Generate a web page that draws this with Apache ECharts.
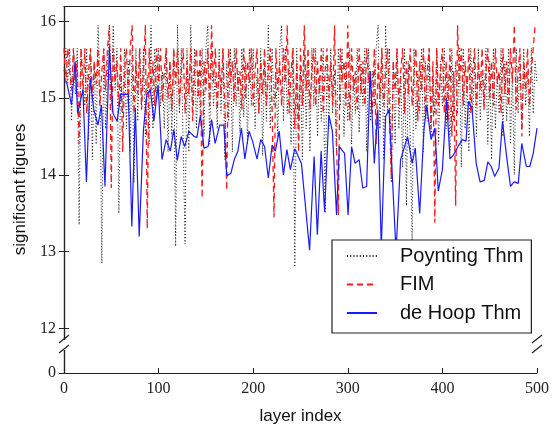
<!DOCTYPE html>
<html><head><meta charset="utf-8">
<script src="https://cdn.jsdelivr.net/npm/echarts@6/dist/echarts.min.js"></script>
<style>html,body{margin:0;padding:0;background:#fff}#c{width:552px;height:430px}</style>
</head><body><div id="c"></div>
<script>
// Layer spacing for the dense series (every 2nd layer)
const denseStep = 2;
const poynting = [
15.35,15.65,15.2,15.65,14.7,15.65,15.05,15.65,13.35,15.65,
15.3,14.9,15.65,14.45,15.65,14.2,15.48,14.4,15.95,15.2,
12.85,15.65,14.6,15.35,15.95,14.9,15.95,15.1,15.65,13.5,
15.35,14.8,15.65,14.6,15.48,14.3,15.65,13.9,15.65,14.7,
15.65,14.9,15.65,14.5,15.3,14.4,15.95,14.6,15.65,15.0,
15.65,14.9,15.35,14.6,15.65,14.3,15.48,14.5,15.65,13.07,
15.95,14.8,15.65,14.4,13.1,15.65,14.3,15.95,14.9,15.65,
14.6,15.35,14.8,15.65,14.5,15.65,15.95,14.4,15.65,14.9,
15.3,14.6,15.65,14.8,15.65,14.2,15.48,14.7,15.65,14.3,
15.65,14.9,15.35,14.55,15.65,14.75,15.48,14.4,15.65,14.9,
15.65,14.6,15.3,14.8,15.65,14.25,15.48,14.7,15.95,14.6,
15.65,14.9,15.35,14.5,15.65,15.95,14.7,15.65,14.8,15.48,
14.4,15.65,12.8,15.65,14.7,15.35,14.2,15.65,14.6,15.48,
14.3,15.65,14.9,15.65,14.5,15.3,14.7,15.65,13.5,15.48,
14.6,15.65,14.8,15.35,14.3,15.65,14.9,15.65,14.5,15.48,
14.7,15.65,14.4,15.3,14.8,15.65,14.55,15.48,14.9,15.65,
14.3,15.65,14.7,15.35,14.9,15.65,15.95,14.6,15.65,14.2,
15.95,14.8,15.65,13.9,15.48,14.4,15.65,14.6,15.3,14.1,
15.65,13.6,15.48,14.5,13.15,15.65,14.6,15.35,14.8,15.65,
14.3,15.48,14.7,15.65,14.5,15.3,14.8,15.65,14.4,15.48,
14.9,15.65,14.6,15.35,14.3,15.65,14.7,15.48,14.8,15.65,
14.1,15.65,14.6,15.3,14.3,15.65,14.8,15.48,14.5,15.65,
14.7,15.35,14.9,15.65,14.4,15.48,14.2,15.65,14.6,15.3,
14.8,15.65,14.5,15.48,14.7,15.65,14.4,15.35,14.0,15.65,
14.8,15.48,14.6,15.65,14.9,15.35,14.5,15.65,14.8,15.48,
15.2
];
const fim = [
15.65,15.2,15.65,15.35,15.1,15.65,15.2,15.48,14.4,15.65,
15.05,15.65,14.8,15.35,15.65,15.0,15.48,15.18,15.65,14.9,
15.35,15.65,15.1,15.65,15.95,13.83,15.65,15.2,15.48,14.9,
15.65,14.3,15.35,15.65,14.95,15.65,15.95,14.8,15.48,15.05,
15.65,14.85,15.35,15.95,13.3,15.65,15.1,15.48,14.9,15.65,
15.2,15.65,14.95,15.35,15.65,15.0,15.48,14.85,15.65,15.18,
15.65,14.9,15.35,15.65,14.8,15.48,15.05,15.65,14.7,15.35,
15.65,15.0,15.65,13.7,15.48,15.1,15.65,14.9,15.95,15.2,
15.65,14.85,15.48,15.05,15.65,14.9,13.8,15.65,15.2,15.48,
14.95,15.65,15.1,15.35,14.85,15.65,15.0,15.48,15.2,15.65,
14.9,15.35,15.65,14.8,15.48,15.05,15.65,14.9,15.35,15.65,
14.85,13.45,15.65,15.1,15.48,14.9,15.65,15.2,15.95,14.8,
15.35,15.65,14.6,15.48,14.3,15.65,14.9,15.95,15.1,15.65,
14.85,15.35,15.65,14.9,15.48,15.05,15.65,14.8,15.35,15.65,
15.0,15.48,14.9,15.95,14.4,13.48,15.65,15.2,15.48,14.9,
15.95,14.7,15.65,15.1,15.35,14.85,15.65,15.05,15.48,14.9,
15.65,15.2,15.35,14.8,15.65,14.4,15.48,15.0,15.65,14.9,
15.35,15.65,14.85,13.95,15.48,15.1,15.65,14.9,15.35,15.65,
14.8,15.48,15.05,15.65,14.9,15.35,15.65,14.7,15.48,15.1,
15.65,14.8,15.35,15.65,14.6,15.48,13.38,15.65,14.9,15.35,
15.65,14.8,15.48,14.7,15.65,14.5,15.35,13.6,15.95,15.2,
15.65,14.9,15.48,15.05,15.65,14.8,15.35,15.65,14.9,15.48,
15.1,15.65,14.85,15.35,15.65,15.0,15.48,14.9,15.65,15.2,
15.35,14.8,15.65,15.05,15.48,14.9,15.65,15.2,15.95,14.85,
15.35,15.65,14.5,15.48,15.1,15.65,14.9,15.35,15.65,15.95,
15.95
];
// de Hoop Thm: vertices (layer, value)
const deHoopLayer = [
2.6,8,11.8,14.4,20,23.7,27.7,31.4,35.9,39.6,43.3,48,51.8,56.2,59.9,68,71.7,75.4,79.5,84,
87.6,91.3,95,99.5,103.6,108,112.4,116.1,119.8,123.9,127.6,132,137.6,140.5,144.2,147.9,152.4,156,159.8,164.6,
169,172,176.4,180,183.8,187.5,191.2,195.6,199.3,204,208,212,216,220,223.4,227.5,231.9,235.6,239.3,244,
251,259.6,264.4,267.8,271.8,275.5,280,283.7,288.1,291,296.6,300.3,304,307.7,312,315.8,319.9,323.6,328,331.7,
335.4,340,343.6,351,355.8,363.2,368,371.3,376,380.5,383.5,388,392,395.6,400,404.4,408,411.7,416.5,421,
425,427.6,431.3,435.7,439.8,444.3,448,451.6,455.3,459.8,463.5,468.3,472,475.7,480.2,483.9,488.7,492.4,496,500
];
const deHoop = [
15.22,14.91,15.48,14.8,15.11,13.91,15.26,14.85,14.65,14.91,13.85,15.65,14.8,14.7,15.05,15.05,13.33,14.87,13.2,14.59,
15.05,15.11,14.7,15.17,14.2,14.46,14.31,14.59,14.19,14.5,14.37,14.57,14.5,14.49,14.78,14.35,14.37,14.72,14.41,14.65,
14.65,13.99,14.02,14.2,14.31,14.61,14.21,14.57,14.44,14.21,14.46,14.37,13.96,14.39,14.31,14.57,14.0,14.33,14.07,14.34,
14.15,13.02,14.24,13.22,14.31,13.52,14.78,14.57,13.48,14.37,14.28,13.48,14.37,14.15,14.2,13.83,13.85,15.35,14.15,14.85,
13.05,14.76,14.85,13.0,14.2,14.5,14.15,14.35,13.5,14.59,14.9,14.46,14.61,13.79,14.07,15.0,14.21,14.26,14.37,14.46,
14.44,14.96,14.87,14.15,13.91,13.93,14.17,14.11,13.98,14.09,14.7,14.2,13.85,13.91,13.89,14.41,14.11,14.11,14.28,14.61
];
const xTicks = [0, 100, 200, 300, 400, 500];
const yTicks = [0, 12, 13, 14, 15, 16];
const seriesNames = ['Poynting Thm', 'FIM', 'de Hoop Thm'];

const poyntingData = poynting.map((v, i) => [i * denseStep, v]);
const fimData = fim.map((v, i) => [i * denseStep, v]);
const deHoopData = deHoop.map((v, i) => [deHoopLayer[i], v]);

const serif = '"Liberation Serif", "DejaVu Serif", serif';
const sans = '"Liberation Sans", Arial, sans-serif';
const yBreaks = [{ start: 0.3, end: 11.85, gap: '2.7%' }];

const yCommon = {
  type: 'value', min: 0, max: 16.2, interval: 1,
  breaks: yBreaks,
  breakArea: { show: false },
  axisLine: { show: true, lineStyle: { color: '#222', width: 1.2 } },
  axisTick: { show: true, inside: true, length: 5, customValues: yTicks, lineStyle: { color: '#222' } },
  splitLine: { show: false },
};
const xCommon = {
  type: 'value', min: 0, max: 500, interval: 100,
  axisLine: { show: true, onZero: false, lineStyle: { color: '#222', width: 1.2 } },
  axisTick: { show: true, inside: true, length: 5, lineStyle: { color: '#222' } },
  splitLine: { show: false },
};

const chart = echarts.init(document.getElementById('c'), null, { renderer: 'canvas' });
chart.setOption({
  animation: false,
  backgroundColor: '#fff',
  grid: { left: 64, right: 12, top: 6, bottom: 57, containLabel: false },
  xAxis: [
    Object.assign({}, xCommon, {
      position: 'bottom',
      name: 'layer index', nameLocation: 'middle', nameGap: 35,
      nameTextStyle: { fontFamily: sans, fontSize: 17, color: '#111' },
      axisLabel: { show: true, margin: 8, fontFamily: serif, fontSize: 16, color: '#222',
        formatter: v => xTicks.includes(v) ? String(v) : '' }
    }),
    Object.assign({}, xCommon, { position: 'top', axisLabel: { show: false } })
  ],
  yAxis: [
    Object.assign({}, yCommon, {
      position: 'left',
      name: 'significant figures', nameLocation: 'middle', nameGap: 34,
      nameTextStyle: { fontFamily: sans, fontSize: 17, color: '#111' },
      axisLabel: { show: true, margin: 8, fontFamily: serif, fontSize: 16, color: '#222',
        customValues: yTicks, formatter: v => String(v) }
    }),
    Object.assign({}, yCommon, { position: 'right', axisLabel: { show: false } })
  ],
  legend: {
    orient: 'vertical', left: 332, top: 240, z: 10,
    data: seriesNames,
    backgroundColor: '#fff', borderColor: '#222', borderWidth: 1.2,
    padding: [6, 8, 10, 14],
    itemWidth: 30, itemHeight: 14, itemGap: 8.5,
    itemStyle: { opacity: 0 },
    textStyle: { fontFamily: sans, fontSize: 20, color: '#111', padding: [0, 0, 0, 18], lineHeight: 20 }
  },
  series: [
    { name: seriesNames[0], type: 'line', data: poyntingData, showSymbol: false, symbol: 'none',
      lineStyle: { color: '#111', width: 1, type: [1, 2.2] }, itemStyle: { color: '#111' } },
    { name: seriesNames[1], type: 'line', data: fimData, showSymbol: false, symbol: 'none',
      lineStyle: { color: '#ff1a1a', width: 1.3, type: [6, 4] }, itemStyle: { color: '#ff1a1a' } },
    { name: seriesNames[2], type: 'line', data: deHoopData, showSymbol: false, symbol: 'none',
      lineStyle: { color: '#1a1aff', width: 1.2 }, itemStyle: { color: '#1a1aff' } }
  ]
});

// axis-break slashes on the left and right axes
function drawBreakMarks() {
  const yLo = chart.convertToPixel({ yAxisIndex: 0 }, yBreaks[0].start);
  const yHi = chart.convertToPixel({ yAxisIndex: 0 }, yBreaks[0].end);
  const xL = chart.convertToPixel({ xAxisIndex: 0 }, 0);
  const xR = chart.convertToPixel({ xAxisIndex: 0 }, 500);
  const els = [];
  [xL, xR].forEach(x => {
    els.push({ type: 'rect', shape: { x: x - 2, y: yHi, width: 4, height: yLo - yHi }, style: { fill: '#fff' }, z: 100 });
    els.push({ type: 'line', shape: { x1: x - 5, y1: yLo + 3, x2: x + 5, y2: yLo - 5 }, style: { stroke: '#222', lineWidth: 1.2 }, z: 101 });
    els.push({ type: 'line', shape: { x1: x - 5, y1: yHi + 3, x2: x + 5, y2: yHi - 5 }, style: { stroke: '#222', lineWidth: 1.2 }, z: 101 });
  });
  chart.setOption({ graphic: els });
}
drawBreakMarks();
</script>
</body></html>
